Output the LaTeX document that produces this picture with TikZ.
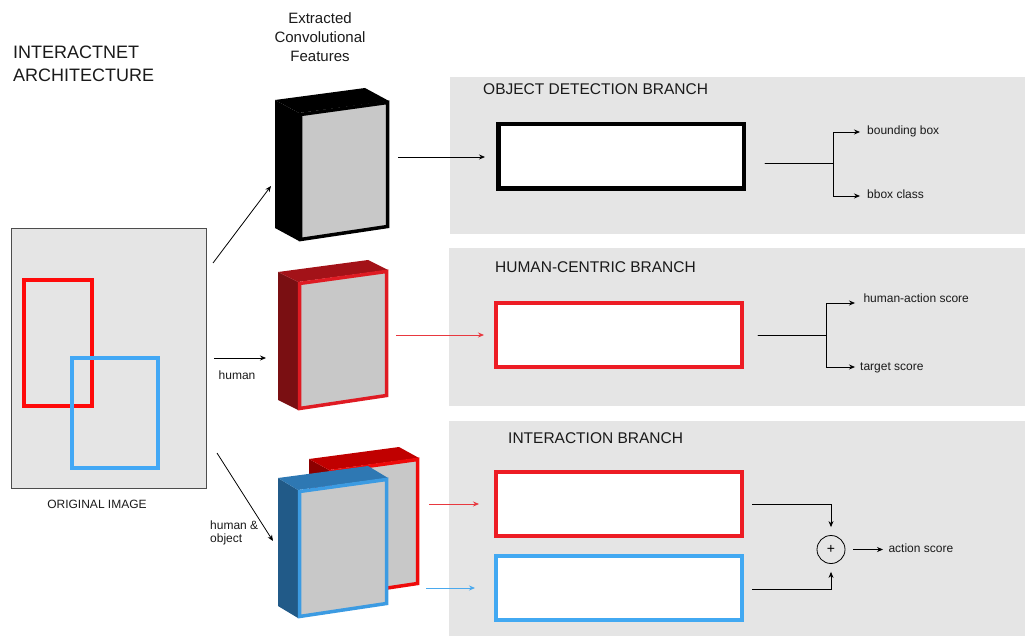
\documentclass[tikz,border=0pt]{standalone}
\usepackage{fontspec}
\setmainfont{Liberation Sans}
\usetikzlibrary{calc,arrows.meta}

\definecolor{panelgray}{HTML}{E5E5E5}
\definecolor{facegray}{HTML}{C8C8C8}
\definecolor{txt}{HTML}{1A1A1A}
\definecolor{boxred}{HTML}{ED1C24}
\definecolor{boxblue}{HTML}{42A9F2}
\definecolor{imgred}{HTML}{FF0A0A}
\definecolor{imgblue}{HTML}{42A8F5}
\definecolor{imgframe}{HTML}{4D4D4D}
\definecolor{arrred}{HTML}{E8383F}
\definecolor{arrblue}{HTML}{4AA9EE}
% feature block colours: side face, top face, front edge
\definecolor{hside}{HTML}{7A0F12}
\definecolor{htop}{HTML}{A31218}
\definecolor{hedge}{HTML}{DF1B23}
\definecolor{bside}{HTML}{215A88}
\definecolor{btop}{HTML}{2E78B3}
\definecolor{bedge}{HTML}{3C9BE2}
\definecolor{rside}{HTML}{8C0000}
\definecolor{rtop}{HTML}{C00000}
\definecolor{redge}{HTML}{EE0A0A}

% A feature map drawn as a slanted 3D slab.
% #1,#2 front top-left corner; #3,#4 depth offset; #5 side; #6 top; #7 front edge; #8 name
\newcommand{\featblock}[8]{%
  \coordinate (#8-ftl) at (#1,#2);
  \coordinate (#8-ftr) at ($(#8-ftl)+(90,-12)$);
  \coordinate (#8-fbr) at ($(#8-ftl)+(90,115)$);
  \coordinate (#8-fbl) at ($(#8-ftl)+(0,128)$);
  \fill[#5] (#8-ftl) -- ($(#8-ftl)+(#3,#4)$) -- ($(#8-fbl)+(#3,#4)$) -- (#8-fbl) -- cycle;
  \fill[#6] (#8-ftl) -- ($(#8-ftl)+(#3,#4)$) -- ($(#8-ftr)+(#3,#4)$) -- (#8-ftr) -- cycle;
  \filldraw[fill=facegray, draw=#7, line width=3.5pt, line join=miter]
    ($(#8-ftl)+(1.5,1.5)$) -- ($(#8-ftr)+(-1.5,1.5)$) -- ($(#8-fbr)+(-1.5,-1.5)$) -- ($(#8-fbl)+(1.5,-1.5)$) -- cycle;
}

\begin{document}
\begin{tikzpicture}[x=1pt,y=-1pt,
  panel/.style={fill=panelgray, draw=none},
  headbox/.style={draw, fill=white, line width=4pt, minimum width=246pt, minimum height=64pt, inner sep=0pt},
  title/.style={font=\fontsize{18}{22}\selectfont, text=txt, inner sep=0pt, anchor=base west},
  heading/.style={font=\fontsize{15}{18}\selectfont, text=txt, inner sep=0pt, anchor=base},
  branchtitle/.style={font=\fontsize{15.5}{18}\selectfont, text=txt, inner sep=0pt, anchor=base west},
  lab/.style={font=\fontsize{12}{14}\selectfont, text=txt, inner sep=0pt, anchor=base west},
  arr/.style={-{Stealth[length=6pt,width=5pt]}, line width=0.8pt},
  link/.style={line width=0.9pt, line cap=round}
]
\useasboundingbox (0,0) rectangle (1025,636);

% ---------- branch panels ----------
\fill[panel] (450,77) rectangle (1025,234);
\fill[panel] (449,248) rectangle (1025,406);
\fill[panel] (449,421) rectangle (1025,636);

% ---------- titles ----------
\node[title] (t1) at (13,58.3) {INTERACTNET};
\node[title] (t2) at (13,81.7) {ARCHITECTURE};
\node[heading] (h1) at (320,24) {Extracted};
\node[heading] (h2) at (320,43) {Convolutional};
\node[heading] (h3) at (320,62) {Features};

\node[branchtitle] (bt1) at (483,95) {OBJECT DETECTION BRANCH};
\node[branchtitle] (bt2) at (495,272.3) {HUMAN-CENTRIC BRANCH};
\node[branchtitle] (bt3) at (508,443.3) {INTERACTION BRANCH};

% ---------- original image ----------
\node[draw=imgframe, fill=panelgray, line width=0.8pt, minimum width=195pt, minimum height=260pt, inner sep=0pt]
  (img) at (109,358.5) {};
\node[draw=imgred, line width=4pt, minimum width=68pt, minimum height=126pt, inner sep=0pt] (hbox) at (58,343) {};
\node[draw=imgblue, line width=4pt, minimum width=86pt, minimum height=110pt, inner sep=0pt] (obox) at (115,413) {};
\node[lab, anchor=base] (imgcap) at (97,508.3) {ORIGINAL IMAGE};

% ---------- feature blocks ----------
\featblock{299}{113}{-24}{-13}{black}{black}{black}{fo}
\featblock{298}{282}{-20}{-10}{hside}{htop}{hedge}{fh}
\featblock{329}{470}{-20}{-11}{rside}{rtop}{redge}{fr}
\featblock{298}{490}{-20}{-12}{bside}{btop}{bedge}{fb}

% ---------- image to features ----------
\coordinate (imgtop) at (213,263);
\coordinate (imgmid) at (214,358);
\coordinate (imgbot) at (217,453);
\coordinate (fotip) at (271,186);
\coordinate (fhtip) at (266,358);
\coordinate (fbtip) at (273,541);
\draw[arr] (imgtop) -- (fotip);
\draw[arr] (imgmid) -- (fhtip);
\draw[arr] (imgbot) -- (fbtip);
\node[lab] (lhuman) at (218.5,379.3) {human};
\node[lab] (lho1) at (210,529.3) {human \&};
\node[lab] (lho2) at (210,542.7) {object};

% ---------- branch heads ----------
\node[headbox, draw=black, line width=4.5pt, minimum width=245.5pt, minimum height=64.5pt] (od) at (621,156.5) {};
\node[headbox, draw=boxred] (hc) at (619,335) {};
\node[headbox, draw=boxred] (ih) at (619,504) {};
\node[headbox, draw=boxblue] (io) at (619,588) {};

\coordinate (foout) at (398,157);
\coordinate (fhout) at (396,335);
\coordinate (frout) at (429,504);
\coordinate (fbout) at (426,588);
\draw[arr, shorten >=11pt] (foout) -- (foout -| od.west);
\draw[arr, arrred, shorten >=10pt] (fhout) -- (fhout -| hc.west);
\draw[arr, arrred, shorten >=15pt] (frout) -- (frout -| ih.west);
\draw[arr, arrblue, shorten >=19pt] (fbout) -- (fbout -| io.west);

% ---------- object detection outputs ----------
\coordinate (odout) at (765,163);
\coordinate (odfork) at (833,163);
\coordinate (odtop) at (860,132);
\coordinate (odbot) at (860,196);
\draw[link] (odout) -- (odfork);
\draw[arr] (odfork) |- (odtop);
\draw[arr] (odfork) |- (odbot);
\node[lab] (lbb) at (867,134.3) {bounding box};
\node[lab] (lbc) at (867,198.3) {bbox class};

% ---------- human-centric outputs ----------
\coordinate (hcout) at (758,335);
\coordinate (hcfork) at (826,335);
\coordinate (hctop) at (855,303);
\coordinate (hcbot) at (855,367);
\draw[link] (hcout) -- (hcfork);
\draw[arr] (hcfork) |- (hctop);
\draw[arr] (hcfork) |- (hcbot);
\node[lab] (lhas) at (863.3,302.7) {human-action score};
\node[lab] (lts) at (860,370) {target score};

% ---------- interaction outputs ----------
\node[draw, circle, line width=0.8pt, minimum size=28pt, inner sep=0pt,
      font=\fontsize{14}{14}\selectfont] (sum) at (831,549.5) {+};
\coordinate (ihout) at (752,504);
\coordinate (ioout) at (752,589);
\draw[arr, shorten >=8pt] (ihout) -| (sum.north);
\draw[arr, shorten >=8pt] (ioout) -| (sum.south);
\coordinate (asout) at (853,549.5);
\coordinate (astip) at (883,549.5);
\draw[arr] (asout) -- (astip);
\node[lab] (las) at (888.3,552.7) {action score};

\end{tikzpicture}
\end{document}
